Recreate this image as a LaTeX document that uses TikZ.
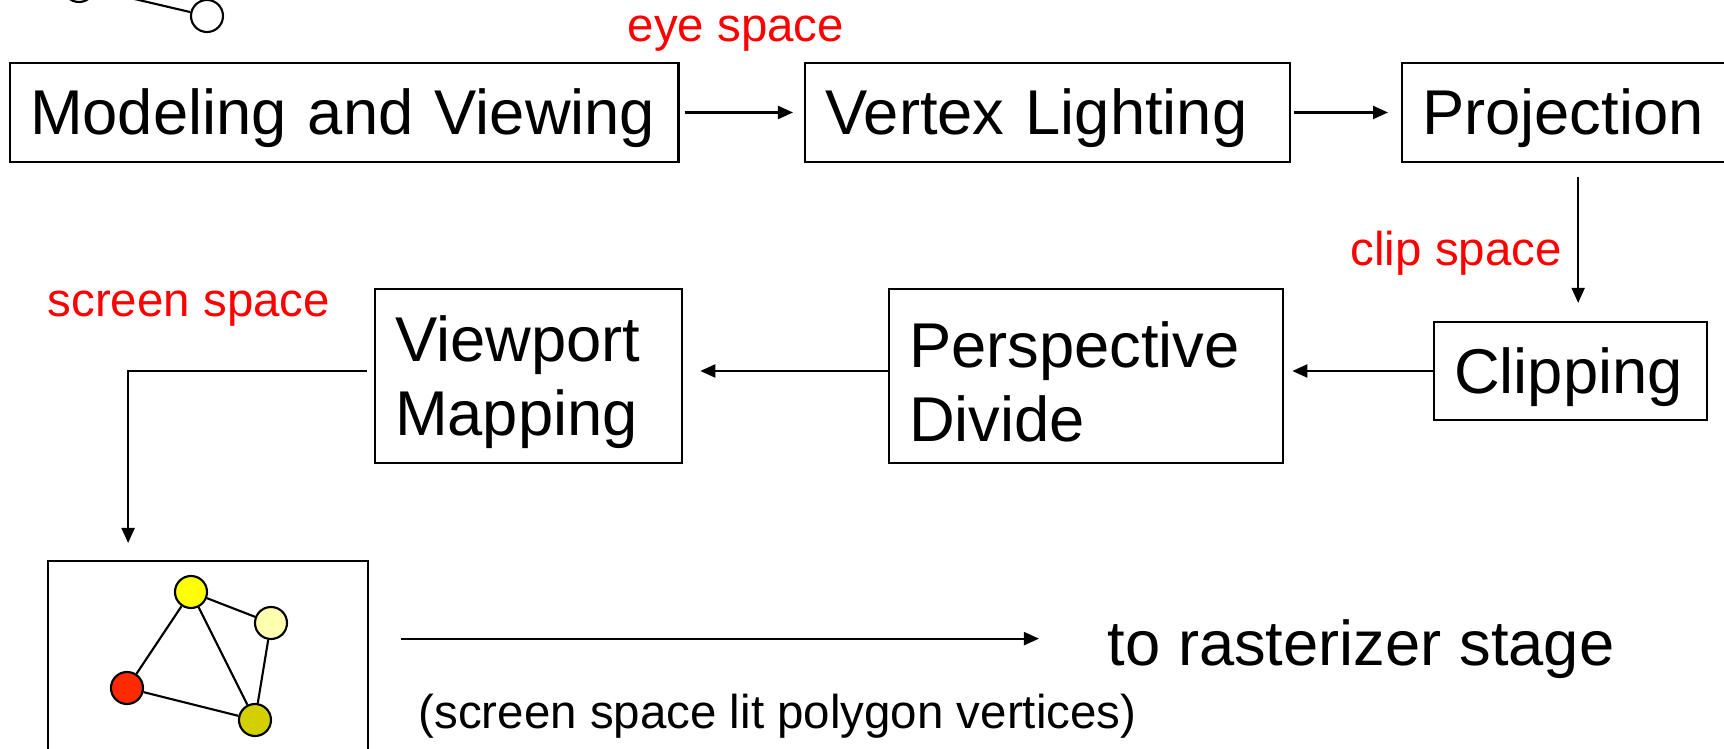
\documentclass[tikz,border=0pt]{standalone}
\usepackage{fontspec}
\setmainfont{Liberation Sans}
\usetikzlibrary{arrows.meta}
\definecolor{litred}{HTML}{FF2A00}
\definecolor{lityellow}{HTML}{FFFF00}
\definecolor{litpale}{HTML}{FFFFB0}
\definecolor{litolive}{HTML}{D4D000}
\tikzset{
  stage/.style={draw, line width=.6pt, inner xsep=.2cm, inner ysep=0pt, align=left,
    font=\fontsize{18}{21}\selectfont, execute at begin node={\rule{0pt}{16.5pt}}},
  flow/.style={-{Triangle[length=.15cm,width=.13cm]}, line width=.6pt},
  spacelabel/.style={anchor=base west, inner sep=0pt, text=red,
    font=\fontsize{13.5}{16}\selectfont},
  vtx/.style={circle, draw, line width=.6pt, minimum size=.32cm, inner sep=0pt},
}

\begin{document}
\begin{tikzpicture}[x=.01cm, y=-.01cm]
  \useasboundingbox (0,0) rectangle (1724,749);
  \clip (0,0) rectangle (1724,749);

% Scene fragment (top left)
  \node[vtx, fill=white] (sa) at (79,-14) {};
  \node[vtx, fill=white] (sb) at (207,16) {};
  \draw[line width=.6pt] (sa) -- (sb);

%%%%%%%%%%%%%%
% Stages
%%%%%%%%%%%%%%
  \node[stage, text width=6.28cm, minimum height=.99cm, anchor=west] (model) at (9,112.5)
        {Modeling and Viewing};
  \node[stage, text width=4.45cm, minimum height=.99cm, anchor=west] (light) at (804,112.5)
        {Vertex Lighting};
  \node[stage, text width=2.87cm, minimum height=.99cm, anchor=west] (proj) at (1401,112.5)
        {Projection};
  \node[stage, text width=2.33cm, minimum height=.98cm, anchor=west] (clip) at (1433,371)
        {Clipping};
  \node[stage, text width=3.54cm, minimum height=1.74cm, anchor=west] (persp) at (888,376)
        {Perspective\\Divide};
  \node[stage, text width=2.67cm, minimum height=1.74cm, anchor=west] (view) at (374,376)
        {Viewport\\Mapping};

% Spaces
  \node[spacelabel] (eye) at (627,42) {eye space};
  \node[spacelabel] (clipsp) at (1350,266) {clip space};
  \node[spacelabel] (scrsp) at (47,317) {screen space};

%%%%%%%%%%%%%%
% Screen
%%%%%%%%%%%%%%
  \node[draw, line width=.6pt, minimum width=3.2cm, minimum height=2.3cm, anchor=north west]
        (scr) at (47,560) {};

  % vertices
  \node[vtx, fill=lityellow] (va) at (191,592) {};
  \node[vtx, fill=litpale]   (vb) at (271,623) {};
  \node[vtx, fill=litred]    (vc) at (127,688) {};
  \node[vtx, fill=litolive]  (vd) at (255,720) {};

  % edges
  \draw[line width=.6pt] (va) -- (vb);
  \draw[line width=.6pt] (va) -- (vc);
  \draw[line width=.6pt] (va) -- (vd);
  \draw[line width=.6pt] (vb) -- (vd);
  \draw[line width=.6pt] (vc) -- (vd);

  % output
  \node[anchor=base west, inner sep=0pt, font=\fontsize{18}{21}\selectfont] (raster) at (1107,665)
        {to rasterizer stage};
  \node[anchor=base west, inner sep=0pt, font=\fontsize{13.5}{16}\selectfont] (lit) at (418,728)
        {(screen space lit polygon vertices)};
  \coordinate (rasterin) at ([xshift=-.68cm,yshift=.1cm]raster.west);

%%%%%%%%%%%%%%
% Flow
%%%%%%%%%%%%%%
  \draw[flow, shorten <=.05cm, shorten >=.11cm] (model) -- (light);
  \draw[flow, shorten <=.03cm, shorten >=.13cm] (light) -- (proj);
  \draw[flow, shorten <=.14cm, shorten >=.18cm]
       ([xshift=.125cm]proj.south) -- ([xshift=.125cm]proj.south |- clip.north);
  \draw[flow, shorten >=.08cm] (clip.west) -- (clip.west -| persp.east);
  \draw[flow, shorten >=.17cm] (persp.west |- clip.west) -- (clip.west -| view.east);
  \draw[flow, shorten <=.07cm, shorten >=.17cm]
       (view.west |- clip.west) -| ([xshift=-.8cm]scr.north);
  \draw[flow] ([xshift=.32cm]scr.east |- rasterin) -- (rasterin);

\end{tikzpicture}
\end{document}
